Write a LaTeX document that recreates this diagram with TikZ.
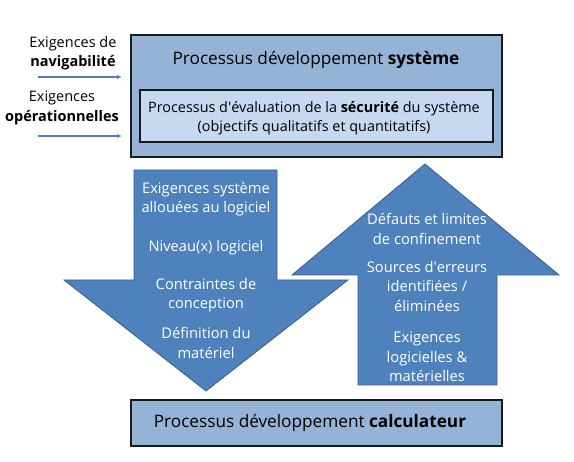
\documentclass[tikz,border=0pt]{standalone}
\usepackage{fontspec}
\setmainfont{Open Sans}
\usetikzlibrary{arrows.meta,positioning}
\definecolor{procfill}{RGB}{149,179,215}
\definecolor{evalfill}{RGB}{198,217,241}
\definecolor{flow}{RGB}{79,129,189}
\definecolor{flowedge}{RGB}{56,93,138}
\definecolor{inarrow}{RGB}{84,126,180}
\begin{document}
\begin{tikzpicture}[
  x=1pt, y=-1pt,
  every node/.style={inner sep=0pt, align=center},
  procbox/.style={draw=black!90, line width=1.4pt, fill=procfill},
  evalbox/.style={draw=black!90, line width=1.2pt, fill=evalfill},
  bigflow/.style={fill=flow, draw=flowedge, line width=0.8pt, line join=miter},
  flowtext/.style={text=white, font=\fontsize{14.7}{19.5}\selectfont},
  reqtext/.style={font=\fontsize{14.5}{19.5}\selectfont},
  reqarrow/.style={draw=inarrow, line width=1.1pt, -{Latex[length=5pt,width=4.5pt]}},
  >=Latex
]
\useasboundingbox (0,0) rectangle (574,462);

% system development process
\path[procbox] (131,35) rectangle (502,157);
\node[font=\fontsize{17.2}{21}\selectfont] (sys) at (316,60) {Processus d\'eveloppement \textbf{syst\`eme}};
\path[evalbox] (140,90) rectangle (493,142);
\node[font=\fontsize{14.4}{19.5}\selectfont] (safety) at (314,118)
  {Processus d\textquotesingle\'evaluation de la \textbf{s\'ecurit\'e} du syst\`eme\\(objectifs qualitatifs et quantitatifs)};

% incoming requirements
\node[reqtext] (navig) at (73,53) {Exigences de\\\textbf{navigabilit\'e}};
\node[reqtext] (oper) at (62,108) {Exigences\\\textbf{op\'erationnelles}};
\coordinate (navA) at (38,77);
\coordinate (navB) at (122,77);
\coordinate (opA) at (38,136);
\coordinate (opB) at (122,136);
\draw[reqarrow] (navA) -- (navB);
\draw[reqarrow] (opA) -- (opB);

% downward flow
\path[bigflow] (134,170) -- (277,170) -- (277,280) -- (348,280) -- (206,391)
  -- (64,280) -- (134,280) -- cycle;
\node[flowtext] (down1) at (206,199) {Exigences syst\`eme\\allou\'ees au logiciel};
\node[flowtext] (down2) at (206,248) {Niveau(x) logiciel};
\node[flowtext] (down3) at (206,295) {Contraintes de\\conception};
\node[flowtext] (down4) at (206,343) {D\'efinition du\\mat\'eriel};

% upward flow
\path[bigflow] (358,385) -- (497,385) -- (497,275) -- (559,275) -- (425,164)
  -- (292,275) -- (358,275) -- cycle;
\node[flowtext] (up1) at (427,229) {D\'efauts et limites\\de confinement};
\node[flowtext] (up2) at (427,286) {Sources d\textquotesingle erreurs\\identifi\'ees /\\\'elimin\'ees};
\node[flowtext] (up3) at (427,357) {Exigences\\logicielles \&\\mat\'erielles};

% computer development process
\path[procbox] (131,400) rectangle (502,446);
\node[font=\fontsize{17.2}{21}\selectfont] (calc) at (310,423) {Processus d\'eveloppement \textbf{calculateur}};

\end{tikzpicture}
\end{document}
